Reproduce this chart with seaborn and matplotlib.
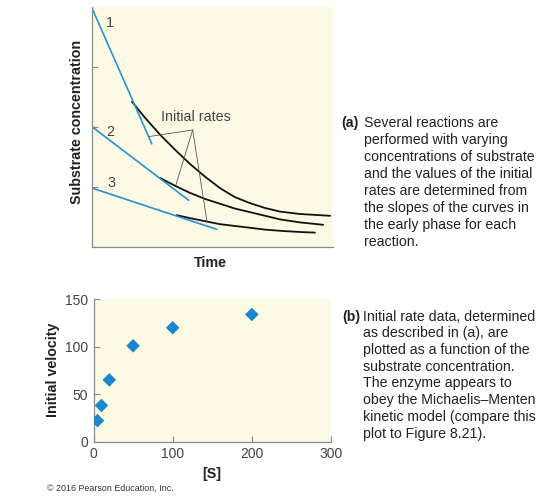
import numpy as np
import pandas as pd
import matplotlib
matplotlib.use("Agg")
import matplotlib.pyplot as plt
import seaborn as sns

# ---------------- data ----------------
# Panel (a): substrate concentration vs time (arbitrary units)
curve1_t = [16.5, 22.0, 28.2, 34.4, 40.7, 46.9, 53.1, 59.3, 65.6, 71.8, 78.0, 86.3, 98.8]
curve1_c = [2.42, 2.15, 1.87, 1.62, 1.38, 1.17, 0.98, 0.83, 0.73, 0.65, 0.59, 0.55, 0.52]
curve2_t = [28.2, 34.4, 40.7, 46.9, 53.1, 59.3, 65.6, 71.8, 78.0, 86.3, 95.9]
curve2_c = [1.15, 1.02, 0.90, 0.80, 0.72, 0.64, 0.58, 0.52, 0.46, 0.41, 0.37]
curve3_t = [35.1, 40.7, 46.9, 53.1, 59.3, 65.6, 71.8, 78.0, 86.3, 92.5]
curve3_c = [0.53, 0.48, 0.43, 0.38, 0.35, 0.32, 0.29, 0.27, 0.25, 0.24]
tan1_t, tan1_c = [0.0, 24.7], [3.97, 1.72]
tan2_t, tan2_c = [0.0, 40.0], [2.00, 0.78]
tan3_t, tan3_c = [0.0, 51.7], [0.98, 0.295]
curve_labels = ["1", "2", "3"]
label_t = [7.5, 7.5, 7.9]
label_c = [3.74, 1.92, 1.06]
annot_text = "Initial rates"
annot_apex = (41.7, 1.95)
annot_targets_t = [23.4, 34.7, 47.7]
annot_targets_c = [1.84, 1.03, 0.41]

# Panel (b): initial velocity vs [S]
S_values = [5, 10, 20, 50, 100, 200]
v_values = [22, 38, 65, 101, 120, 134]
x_ticks_b = [0, 100, 200, 300]
y_ticks_b = [0, 50, 100, 150]
y_ticks_a = [1, 2, 3]

text_a = ["Several reactions are", "performed with varying", "concentrations of substrate",
          "and the values of the initial", "rates are determined from",
          "the slopes of the curves in", "the early phase for each", "reaction."]
text_b = ["Initial rate data, determined", "as described in (a), are",
          "plotted as a function of the", "substrate concentration.",
          "The enzyme appears to", "obey the Michaelis\u2013Menten",
          "kinetic model (compare this", "plot to Figure 8.21)."]

# ---------------- style ----------------
sns.set_style("white")
plt.rcParams['font.family'] = ['Liberation Sans', 'DejaVu Sans']

W, H = 553, 496
fig = plt.figure(figsize=(W / 100, H / 100), dpi=100)
fig.patch.set_facecolor("white")

cream = "#FCF9E5"
blue = "#2A92D2"
mark_blue = "#1C87CC"
spine_col = "#8a8a8a"
txt_col = "#222222"
tick_col = "#444444"

def px_ax(l, r, t, b):
    return [l / W, 1 - b / H, (r - l) / W, (b - t) / H]

# ---------------- panel (a) ----------------
axA = fig.add_axes(px_ax(92.3, 333, 7, 247))
axA.set_facecolor(cream)

dfc = pd.concat([
    pd.DataFrame({"t": curve1_t, "c": curve1_c, "k": "1"}),
    pd.DataFrame({"t": curve2_t, "c": curve2_c, "k": "2"}),
    pd.DataFrame({"t": curve3_t, "c": curve3_c, "k": "3"}),
])
dft = pd.concat([
    pd.DataFrame({"t": tan1_t, "c": tan1_c, "k": "1"}),
    pd.DataFrame({"t": tan2_t, "c": tan2_c, "k": "2"}),
    pd.DataFrame({"t": tan3_t, "c": tan3_c, "k": "3"}),
])
sns.lineplot(data=dfc, x="t", y="c", units="k", estimator=None, sort=False,
             color="#111111", lw=1.3, ax=axA, legend=False)
sns.lineplot(data=dft, x="t", y="c", units="k", estimator=None, sort=False,
             color=blue, lw=1.2, ax=axA, legend=False)

for tt, cc in zip(annot_targets_t, annot_targets_c):
    axA.plot([annot_apex[0], tt], [annot_apex[1], cc], color="#555555", lw=0.6)
axA.text(annot_apex[0] + 1.4, annot_apex[1] + 0.1, annot_text, ha="center", va="bottom",
         fontsize=10.3, color="#444444")
for lab, tt, cc in zip(curve_labels, label_t, label_c):
    axA.text(tt, cc, lab, ha="center", va="center", fontsize=10.3, color="#444444")

axA.set_xlim(0, 100)
axA.set_ylim(0, 4)
axA.set_xticks([])
axA.set_yticks(y_ticks_a)
axA.set_yticklabels([])
axA.tick_params(axis="y", direction="in", length=4, color=spine_col, width=0.8, left=True)
for s in ["top", "right"]:
    axA.spines[s].set_visible(False)
for s in ["left", "bottom"]:
    axA.spines[s].set_color(spine_col)
    axA.spines[s].set_linewidth(0.9)
axA.set_xlabel("")
axA.set_ylabel("")

# ---------------- panel (b) ----------------
axB = fig.add_axes(px_ax(93.5, 331, 299.3, 441.5))
axB.set_facecolor(cream)
dfb = pd.DataFrame({"S": S_values, "v": v_values})
sns.scatterplot(data=dfb, x="S", y="v", marker="D", s=48, color=mark_blue,
                edgecolor="none", ax=axB, legend=False, zorder=3)
axB.set_xlim(0, 300)
axB.set_ylim(0, 150)
axB.set_xticks(x_ticks_b)
axB.set_yticks(y_ticks_b)
axB.tick_params(direction="in", length=4, color=spine_col, width=0.8,
                labelsize=10, labelcolor=tick_col, pad=4, left=True, bottom=True)
for s in ["top", "right"]:
    axB.spines[s].set_visible(False)
for s in ["left", "bottom"]:
    axB.spines[s].set_color(spine_col)
    axB.spines[s].set_linewidth(0.9)
axB.set_xlabel("")
axB.set_ylabel("")

# ---------------- axis labels ----------------
def ftext(x, y, s, **kw):
    fig.text(x / W, 1 - y / H, s, **kw)

ftext(77, 121.5, "Substrate concentration", rotation=90, ha="center", va="center",
      fontsize=10.3, fontweight="bold", color=txt_col)
ftext(210, 263.3, "Time", ha="center", va="center", fontsize=10.3,
      fontweight="bold", color=txt_col)
ftext(52.5, 370, "Initial velocity", rotation=90, ha="center", va="center",
      fontsize=10.3, fontweight="bold", color=txt_col)
ftext(211.7, 474, "[S]", ha="center", va="center", fontsize=10.3,
      fontweight="bold", color=txt_col)
ftext(47, 488, "\u00a9 2016 Pearson Education, Inc.", ha="left", va="center",
      fontsize=6.4, color="#333333")

# ---------------- side texts ----------------
ya = [123.3, 140.2, 157.1, 174.0, 190.9, 207.8, 224.7, 241.6]
yb = [316.7, 333.4, 350.1, 366.8, 383.5, 400.2, 416.9, 433.6]
ftext(341.7, ya[0], "(a)", ha="left", va="center", fontsize=10.2,
      fontweight="bold", color=txt_col)
for y, line in zip(ya, text_a):
    ftext(364.3, y, line, ha="left", va="center", fontsize=10.2, color=txt_col)
ftext(342.3, yb[0], "(b)", ha="left", va="center", fontsize=10.2,
      fontweight="bold", color=txt_col)
for y, line in zip(yb, text_b):
    ftext(363.3, y, line, ha="left", va="center", fontsize=10.2, color=txt_col)

fig.savefig("out.png", dpi=100, facecolor="white")
